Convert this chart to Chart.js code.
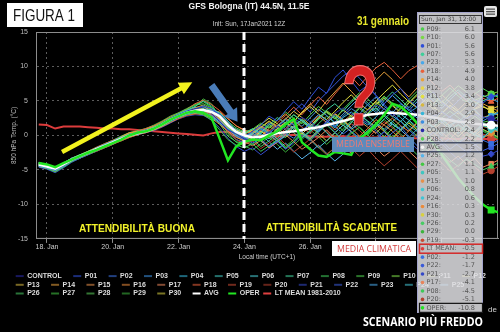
<!DOCTYPE html>
<html>
<head>
<meta charset="utf-8">
<title>GFS Bologna - 850 hPa ensemble</title>
<script src="https://cdn.jsdelivr.net/npm/chart.js@4.4.0/dist/chart.umd.min.js"></script>
<style>
  html, body { margin: 0; padding: 0; background: #000; }
  #wrap { width: 500px; height: 332px; }
</style>
</head>
<body>
<div id="wrap"><canvas id="ensChart" width="500" height="332"></canvas></div>
<script>
// asse x: ore dal 18 gen 00:00 (ora locale), passo 6 ore
const hours = [-6,0,6,12,18,24,30,36,42,48,54,60,66,72,78,84,90,96,102,108,114,120,126,132,138,144,150,156,162,168,174,180,186,192,198,204,210,216,222,228,234,240,246,252,258,264,270,276,282,288,294,300,306,312,318,324,330];
const xTickHours = [0, 48, 96, 144, 192, 240, 288];
const xTickLabels = ['18. Jan', '20. Jan', '22. Jan', '24. Jan', '26. Jan', '28. Jan', '30. Jan'];
const yTicks = [-15, -10, -5, 0, 5, 10, 15];
const splitHour = 144;           // 24 gennaio, linea tratteggiata
const hoverIdx = 55;             // Sun, Jan 31, 12:00
const hoverLabel = 'Sun, Jan 31, 12:00';

// membri ensemble (850 hPa, gradi C)
const CONTROL = [-4.0,-4.3,-4.9,-4.4,-3.6,-3.1,-2.4,-1.9,-1.6,-1.1,-0.4,0.1,0.4,0.5,1.1,1.8,2.5,3.0,3.5,3.9,4.1,3.2,2.0,0.8,0.2,-0.5,-0.8,-0.2,0.5,1.3,0.9,1.8,2.6,2.0,1.1,1.9,3.2,4.0,3.1,2.5,3.6,4.4,3.8,2.9,3.5,4.2,3.0,2.1,2.8,3.4,2.6,1.8,2.5,3.1,2.7,2.4,2.0];
const P01 = [-4.3,-4.6,-5.0,-4.1,-3.4,-3.0,-2.6,-2.1,-1.4,-0.9,-0.6,0.1,0.4,0.8,1.1,1.5,2.1,2.6,3.2,3.8,4.3,3.9,3.0,1.6,0.4,-0.2,0.6,1.5,2.8,2.1,3.6,4.9,3.8,5.5,7.0,6.1,8.4,9.5,7.9,6.4,7.3,5.8,4.6,5.9,6.8,5.2,4.1,5.4,6.3,4.8,3.9,5.0,6.2,5.1,4.7,5.62,6.0];
const P02 = [-4.4,-4.6,-4.7,-4.3,-3.7,-3.2,-2.6,-2.1,-1.5,-1.2,-0.6,-0.1,0.2,0.5,0.9,1.5,2.2,2.9,3.1,3.4,3.5,3.6,3.1,1.9,0.6,-0.4,-1.1,-0.5,-1.6,-0.9,0.3,-0.4,0.8,1.6,0.7,2.1,1.4,0.2,1.1,2.5,1.8,0.6,-0.7,0.4,1.3,-0.2,-1.5,-0.6,0.5,-0.8,-2.0,-1.1,-0.3,-1.4,-0.7,-1.2,-0.6];
const P03 = [-4.1,-4.4,-4.6,-4.0,-3.3,-2.9,-2.4,-2.0,-1.6,-1.0,-0.4,0.2,0.2,0.7,1.2,1.7,2.4,2.7,3.4,3.5,3.3,2.9,2.2,1.0,-0.1,-0.6,-0.1,0.9,0.2,1.4,2.3,1.5,0.6,1.9,3.0,2.2,1.3,2.8,3.9,3.1,4.5,5.6,4.2,3.3,4.6,3.8,2.5,3.6,2.9,1.8,2.7,3.5,2.4,3.2,2.1,2.8,3.3];
const P04 = [-4.5,-4.7,-5.1,-4.5,-3.6,-2.9,-2.5,-1.8,-1.3,-0.8,-0.3,0.1,0.5,0.6,1.0,1.7,2.4,3.1,3.6,3.7,3.3,2.6,1.8,0.9,0.3,-0.1,0.4,-0.6,0.2,-0.9,-0.1,1.2,0.5,-0.4,0.8,2.0,1.1,2.6,3.4,2.3,1.5,2.7,3.9,2.8,2.0,3.3,4.1,3.0,2.2,3.5,2.6,1.9,3.1,3.8,2.5,2.9,3.4];
const P05 = [-3.9,-4.3,-4.8,-4.3,-3.4,-2.8,-2.5,-2.1,-1.6,-1.1,-0.5,0.0,0.2,0.6,0.9,1.5,2.1,2.7,3.2,3.5,3.9,3.7,3.3,2.1,0.7,0.1,-0.4,0.3,-0.5,0.8,1.7,0.9,-0.3,0.6,1.5,0.4,-0.8,0.5,1.9,3.0,2.1,1.2,2.4,3.5,2.6,1.4,0.6,1.8,2.9,2.0,0.8,1.6,0.7,0.2,1.4,1.08,0.6];
const P06 = [-4.2,-4.4,-4.9,-4.2,-3.5,-3.1,-2.6,-2.2,-1.7,-1.0,-0.6,-0.1,0.3,0.7,1.0,1.6,2.2,2.7,3.1,3.4,3.2,2.7,2.0,0.9,0.0,-0.3,0.2,1.1,0.4,-0.5,0.6,1.4,2.3,1.3,0.5,1.8,2.9,2.0,0.9,1.7,3.1,4.0,2.8,1.6,0.8,2.1,3.0,1.9,1.2,0.3,1.5,2.2,1.0,0.1,-0.4,0.8,1.3];
const P07 = [-4.0,-4.6,-5.0,-4.3,-3.4,-3.0,-2.4,-1.9,-1.4,-0.9,-0.4,0.1,0.4,0.7,1.1,1.7,2.5,3.1,3.6,4.2,5.0,4.3,2.9,1.4,0.6,0.2,1.0,0.3,1.5,2.6,1.8,3.0,2.1,1.2,2.4,3.7,4.6,3.5,4.8,5.9,4.7,3.6,5.1,6.3,5.2,4.0,5.3,6.5,5.4,4.3,5.6,6.6,5.5,4.6,5.0,5.58,5.9];
const P08 = [-4.4,-4.8,-5.3,-4.6,-3.8,-3.2,-2.7,-2.2,-1.6,-1.0,-0.5,0.0,0.2,0.5,0.9,1.4,2.0,2.6,3.0,3.3,3.0,2.2,0.8,-0.6,-1.4,-1.8,-1.2,-2.3,-1.5,-0.6,-1.8,-0.9,0.2,-0.7,0.6,1.5,0.4,-0.8,0.3,1.2,0.1,-1.1,-2.4,-1.3,-0.2,-1.6,-2.8,-1.9,-3.2,-2.4,-3.6,-4.5,-3.4,-4.2,-5.0,-4.5,-3.9];
const P09 = [-4.1,-4.4,-4.9,-4.2,-3.3,-2.8,-2.3,-1.8,-1.5,-1.0,-0.5,0.0,0.4,0.6,1.2,1.9,2.6,3.2,3.8,4.4,4.6,4.0,3.2,2.0,1.1,0.5,0.9,1.8,1.1,2.3,3.4,2.5,1.7,3.0,4.2,3.3,2.4,3.8,5.0,6.2,5.3,4.1,5.6,4.7,3.8,5.2,6.4,5.5,4.4,5.8,6.9,5.7,4.8,6.0,6.8,6.1,5.4];
const P10 = [-4.3,-4.5,-4.7,-4.0,-3.5,-3.1,-2.6,-2.0,-1.4,-0.9,-0.4,0.2,0.4,0.7,1.0,1.6,2.3,2.9,3.5,3.9,4.1,3.6,2.6,1.2,0.2,-0.3,-0.7,0.4,1.3,0.5,-0.3,0.9,2.0,1.1,2.5,3.6,2.7,1.6,2.9,4.1,3.2,4.6,5.7,4.5,3.4,4.8,6.0,7.1,5.9,4.7,6.1,7.2,6.3,5.1,5.6,6.0,6.4];
const P11 = [-4.0,-4.4,-4.6,-4.1,-3.6,-3.0,-2.5,-2.0,-1.5,-1.1,-0.6,-0.1,0.3,0.6,0.9,1.4,2.1,2.6,3.2,3.5,3.6,3.5,3.0,1.8,0.8,0.3,0.8,1.6,2.5,1.7,0.8,2.0,3.3,4.2,3.1,2.3,3.5,4.8,5.9,4.6,3.7,5.0,6.2,7.3,6.0,4.9,4.0,5.2,4.1,3.2,4.4,3.5,2.6,3.8,4.3,3.4,2.9];
const P12 = [-4.2,-4.5,-4.8,-4.3,-3.5,-2.9,-2.4,-1.9,-1.5,-1.0,-0.5,0.1,0.3,0.5,1.0,1.6,2.2,2.8,3.3,3.7,3.9,3.5,2.7,1.5,0.6,0.0,-0.5,0.6,-0.2,1.0,1.9,1.1,0.2,1.4,2.6,3.5,2.4,3.7,2.8,1.9,3.2,4.5,5.4,4.3,3.3,4.7,5.8,4.9,3.8,5.0,4.0,3.1,4.2,4.9,4.1,3.8,4.3];
const P13 = [-4.3,-4.6,-4.9,-4.4,-3.7,-3.1,-2.4,-1.8,-1.4,-0.8,-0.3,0.2,0.5,0.8,1.3,1.8,2.4,2.9,3.5,4.0,4.4,3.8,2.4,1.0,0.1,-0.2,0.3,1.2,2.1,1.3,2.4,3.5,2.6,1.5,0.7,1.9,3.1,2.2,1.1,2.5,3.7,4.9,3.8,2.7,3.9,5.1,4.0,2.9,2.0,3.2,4.3,3.4,2.3,3.5,2.6,3.0,3.6];
const P14 = [-4.1,-4.3,-4.7,-4.2,-3.4,-3.0,-2.5,-2.0,-1.6,-1.1,-0.2,0.4,0.6,0.5,0.8,1.4,2.2,2.9,3.4,3.6,3.4,2.9,2.1,1.0,0.4,0.2,0.7,-0.1,1.0,2.2,3.1,2.0,3.4,4.6,3.5,5.0,6.3,7.6,6.4,5.1,6.6,8.0,9.2,8.1,6.8,5.6,6.9,5.7,4.6,5.9,4.8,3.7,4.9,3.9,4.6,4.0,3.5];
const P15 = [-4.5,-4.8,-5.0,-4.4,-3.7,-3.2,-2.7,-2.1,-1.4,-0.9,-0.7,-0.2,0.1,0.6,1.0,1.6,2.3,2.7,3.0,3.2,3.0,2.5,1.6,0.6,-0.3,-0.7,-0.2,0.7,0.0,-0.8,0.4,1.3,0.5,1.7,2.8,1.9,0.8,2.0,3.0,2.1,1.2,0.3,1.6,2.5,1.4,0.6,1.8,2.7,1.5,0.4,-0.5,0.7,1.6,0.5,1.3,1.0,0.4];
const P16 = [-4.0,-4.3,-4.6,-4.0,-3.3,-2.8,-2.3,-1.9,-1.5,-1.2,-0.7,-0.2,0.2,0.9,1.2,1.9,2.6,3.0,3.4,3.8,4.0,3.7,3.4,2.4,1.4,0.7,0.3,-0.6,0.5,1.4,2.5,1.6,0.4,-0.5,0.8,2.0,3.2,2.3,1.1,-0.1,1.0,2.3,1.5,0.6,-0.6,0.7,1.9,0.9,-0.2,1.0,2.0,0.8,-0.3,0.6,-0.4,0.3,0.9];
const P17 = [-4.4,-4.7,-5.2,-4.5,-3.6,-3.1,-2.6,-2.0,-1.5,-1.0,-0.4,0.0,0.2,0.4,0.8,1.3,1.9,2.5,3.0,3.4,3.6,3.2,2.3,0.9,-0.2,-0.9,-1.5,-0.7,-1.8,-1.0,0.1,-0.9,-2.0,-1.2,-0.3,0.8,-0.4,-1.5,-2.6,-1.7,-0.6,-1.8,-3.0,-2.1,-1.0,-2.3,-3.4,-2.5,-1.6,-2.8,-3.9,-3.0,-4.2,-3.3,-4.6,-4.1,-3.5];
const P18 = [-4.2,-4.6,-4.8,-4.1,-3.4,-2.9,-2.3,-1.7,-1.2,-0.7,-0.3,0.3,0.6,1.0,1.4,2.0,2.7,3.2,3.8,4.6,5.1,4.5,3.6,2.5,1.4,0.8,0.4,1.3,0.6,1.8,2.9,4.1,3.0,4.4,5.6,4.5,6.0,7.4,8.5,7.2,8.6,9.8,10.6,9.5,8.2,9.4,10.1,8.8,7.5,6.4,7.3,6.1,5.0,6.2,5.4,4.9,5.5];
const P19 = [-4.3,-4.5,-4.7,-4.2,-3.6,-3.2,-2.7,-2.3,-1.8,-1.3,-0.8,-0.3,0.1,0.4,0.8,1.3,1.9,2.5,2.9,3.1,3.2,2.8,1.9,0.8,0.0,-0.6,-0.9,-0.1,0.8,-0.2,1.0,2.1,1.2,0.3,1.5,0.6,-0.6,0.5,1.7,0.7,-0.4,0.8,2.0,1.1,0.0,-1.1,0.2,1.2,0.3,-0.8,0.4,-0.7,0.5,-0.6,0.2,-0.3,-0.9];
const P20 = [-4.1,-4.4,-5.0,-4.4,-3.7,-3.2,-2.7,-2.1,-1.7,-1.2,-0.6,-0.1,0.3,0.6,1.0,1.5,2.0,2.4,2.9,3.2,3.4,3.0,2.0,0.5,-0.6,-1.3,-0.8,-1.9,-1.1,-0.2,-1.3,-2.4,-1.5,-0.5,-1.6,-2.7,-1.8,-0.7,-1.9,-3.0,-2.0,-3.3,-4.4,-3.4,-2.3,-3.5,-4.7,-3.8,-2.9,-4.0,-5.2,-4.3,-3.4,-4.6,-5.6,-5.1,-4.4];
const P21 = [-4.6,-4.9,-5.4,-4.7,-3.9,-3.3,-2.8,-2.2,-1.7,-1.2,-0.7,-0.2,0.1,0.4,0.7,1.2,1.8,2.4,2.8,3.0,2.9,2.3,1.1,-0.4,-1.6,-2.3,-1.8,-2.8,-1.9,-0.9,-2.0,-1.1,0.1,-0.8,0.4,1.6,0.5,-0.6,0.6,-0.5,-1.7,-0.6,0.5,-0.7,-1.9,-0.8,-2.0,-3.1,-2.2,-1.2,-2.4,-3.5,-2.6,-1.7,-3.0,-2.7,-2.1];
const P22 = [-4.2,-4.5,-4.8,-4.3,-3.4,-3.0,-2.5,-2.0,-1.5,-1.0,-0.5,0.0,0.3,0.6,1.0,1.7,2.4,3.0,3.5,3.8,3.9,3.3,2.2,0.7,-0.6,-1.0,-0.4,0.7,1.8,1.0,2.3,3.5,4.6,3.4,5.0,6.2,7.4,8.6,9.5,8.3,7.0,5.8,4.5,3.2,2.0,0.8,-0.3,0.9,-0.2,-1.3,-0.4,-1.5,-2.4,-1.3,-2.2,-1.7,-1.1];
const P23 = [-4.0,-4.3,-4.6,-4.0,-3.3,-2.9,-2.4,-1.9,-1.3,-0.8,-0.2,0.3,0.6,0.9,1.3,1.8,2.5,3.0,3.4,3.7,3.8,3.4,2.6,1.3,0.3,-0.1,0.5,1.4,0.7,-0.2,1.0,2.2,1.3,2.6,3.8,2.9,1.9,3.1,4.3,5.5,4.4,3.3,4.6,5.8,4.7,3.6,4.9,6.1,5.0,3.9,5.2,6.3,5.1,4.2,5.8,5.3,4.8];
const P24 = [-4.4,-4.6,-5.1,-4.5,-3.8,-3.3,-2.8,-2.3,-1.8,-1.3,-0.7,-0.2,0.2,0.5,0.9,1.4,2.1,2.6,3.0,3.3,3.5,3.1,2.3,1.2,0.2,-0.4,0.1,-0.8,-1.7,-0.7,-1.9,-0.9,0.3,-0.6,-1.8,-0.8,0.4,1.5,0.6,-0.4,0.7,1.8,0.9,2.0,3.1,2.2,1.2,0.1,1.3,2.4,1.4,0.3,1.5,0.5,-0.2,0.6,1.1];
const P25 = [-4.1,-4.5,-4.9,-4.3,-3.5,-3.0,-2.4,-1.9,-1.4,-0.9,-0.4,0.1,0.5,0.8,1.2,1.8,2.5,3.1,3.7,4.1,4.0,3.3,2.5,1.6,0.9,0.4,0.9,0.1,-0.9,-2.0,-1.1,-2.3,-3.4,-2.5,-1.4,-2.6,-3.7,-2.7,-1.6,-0.5,-1.7,-0.6,0.6,1.7,0.8,-0.3,0.9,2.0,1.1,0.0,1.2,2.3,1.4,0.4,1.8,1.2,0.7];
const P26 = [-4.3,-4.7,-5.2,-4.6,-3.8,-3.3,-2.7,-2.1,-1.6,-1.1,-0.6,0.0,0.3,0.6,0.9,1.5,2.2,2.8,3.4,3.9,4.2,3.6,1.7,-0.1,-0.9,-1.2,-0.5,-1.6,-0.8,0.3,1.3,0.4,-0.6,0.6,1.7,2.8,1.8,0.7,1.9,3.0,2.0,0.9,-0.2,1.0,2.1,1.0,-0.1,-1.2,0.0,1.1,0.1,-1.0,0.2,-0.8,0.8,0.2,-0.4];
const P27 = [-4.0,-4.4,-4.8,-4.2,-3.5,-2.9,-2.3,-1.8,-1.2,-0.7,-0.1,0.4,0.7,1.0,1.5,2.1,2.8,3.3,3.9,4.5,4.9,4.1,2.8,1.3,0.0,-0.7,-1.3,-0.4,0.6,-0.5,-1.6,-0.6,0.5,-0.5,-1.7,-2.8,-1.8,-0.7,0.5,-0.5,0.7,1.8,0.8,-0.3,0.9,2.0,1.0,0.0,1.2,2.2,1.3,0.3,1.5,0.6,1.6,1.12,0.5];
const P28 = [-4.2,-4.4,-4.6,-4.0,-3.4,-3.0,-2.5,-2.0,-1.6,-1.2,-0.8,-0.3,0.1,0.5,1.0,1.6,2.3,2.8,3.3,3.6,3.8,3.2,1.9,0.4,-0.6,-1.1,-0.6,0.5,1.6,0.7,1.9,3.0,2.1,1.0,2.3,3.4,2.5,1.4,2.7,3.9,2.9,1.8,3.0,2.0,0.9,2.1,3.2,2.2,1.2,2.5,3.5,2.6,1.6,2.8,1.9,2.2,2.8];
const P29 = [-4.5,-4.8,-5.1,-4.4,-3.6,-3.1,-2.5,-1.9,-1.4,-0.9,-0.4,0.1,0.4,0.7,1.1,1.7,2.4,3.0,3.6,4.2,5.3,4.6,2.5,0.3,-1.0,-1.5,-2.1,-1.2,-0.2,-1.3,-2.4,-1.4,-0.3,0.8,-0.2,-1.3,-0.2,1.0,2.1,1.1,0.0,1.2,2.3,1.3,0.2,-0.9,0.3,1.4,0.4,-0.7,0.5,1.5,0.5,-0.5,0.6,0.0,-0.6];
const P30 = [-4.2,-4.6,-5.0,-4.4,-3.7,-3.1,-2.6,-2.1,-1.6,-1.0,-0.3,0.3,0.5,0.9,1.4,2.0,2.6,3.1,3.5,3.7,3.6,3.1,2.2,1.1,0.3,-0.3,0.2,1.1,2.0,1.1,0.1,1.2,2.3,1.3,0.3,-0.8,0.4,1.5,0.5,-0.6,0.5,1.6,0.6,-0.5,0.7,1.8,0.8,-0.3,0.8,1.9,0.9,-0.2,1.0,0.0,0.9,0.3,-0.3];

// media ensemble, run operativo, media climatica
const AVG = [-4.2,-4.5,-4.8,-4.2,-3.5,-3.0,-2.5,-2.0,-1.5,-1.0,-0.5,0.0,0.3,0.6,1.0,1.6,2.3,2.8,3.3,3.6,3.7,3.4,2.8,1.5,0.5,0.0,-0.3,-0.2,0.1,0.3,0.5,0.6,0.8,1.0,1.2,1.5,1.8,2.1,2.4,2.7,3.0,3.1,3.3,3.3,3.2,3.1,3.0,2.8,2.6,2.4,2.2,2.0,1.9,1.7,1.6,1.5,1.4];
const OPER = [-4.0,-4.2,-4.6,-4.0,-3.5,-3.0,-2.5,-2.1,-1.6,-1.1,-0.6,0.0,0.4,0.6,1.0,1.6,2.3,2.8,3.3,3.5,3.3,2.6,-0.5,-3.6,-1.6,-0.9,-0.6,-0.7,0.0,0.6,1.6,2.4,-1.0,-2.0,-2.9,-3.1,-2.4,-2.6,-2.8,-0.4,0.4,1.6,3.0,4.6,4.2,3.1,1.8,0.4,-1.2,-2.8,-4.5,-6.2,-7.6,-8.9,-10.0,-10.8,-11.2];
const LT_MEAN = [1.6,1.5,1.0,1.3,1.3,1.3,1.2,1.1,1.0,1.0,0.9,0.9,0.8,0.7,0.6,0.5,0.4,0.3,0.2,0.1,0.0,0.3,0.5,0.5,0.3,0.1,0.0,0.0,-0.1,-0.1,0.0,0.1,0.0,-0.1,-0.2,-0.2,-0.1,-0.1,-0.2,-0.2,-0.3,-0.3,-0.2,-0.3,-0.3,-0.4,-0.4,-0.3,-0.4,-0.4,-0.5,-0.5,-0.4,-0.5,-0.5,-0.5,-0.5];

const memberNames = ['CONTROL','P01','P02','P03','P04','P05','P06','P07','P08','P09','P10','P11','P12','P13','P14','P15','P16','P17','P18','P19','P20','P21','P22','P23','P24','P25','P26','P27','P28','P29','P30'];
const memberData = [CONTROL,P01,P02,P03,P04,P05,P06,P07,P08,P09,P10,P11,P12,P13,P14,P15,P16,P17,P18,P19,P20,P21,P22,P23,P24,P25,P26,P27,P28,P29,P30];
const memberColors = ['#2a2aa8','#2f4fd8','#3a6fe0','#3b8fe0','#35b5d8','#3fc6c0','#46c8d0','#3fcf9a','#3ec858','#4ccf4c','#7ad846','#e2e040','#e8d44a','#d6b840','#e8a23c','#e6904a','#ea8a3a','#e8845a','#e8603a','#c84a34','#b4402e','#3448c8','#3a5ad8','#48a8ea','#44c4d4','#58b4ea','#48cc64','#44c844','#5ad05a','#3cb43c','#d8d040'];
const markerStyles = ['circle', 'rectRot', 'rect', 'triangle', 'triangle'];

Chart.defaults.font.family = '"Liberation Sans", Arial, sans-serif';

const toXY = (arr) => arr.map((v, i) => ({ x: hours[i], y: v }));
const markerRadius = (c) => (c.dataIndex === hoverIdx ? 3.2 : 0);

const datasets = memberData.map((arr, i) => ({
    label: memberNames[i],
    short: memberNames[i],
    data: toXY(arr),
    borderColor: memberColors[i],
    backgroundColor: memberColors[i],
    legendColor: memberColors[i] + '90',
    borderWidth: 1,
    pointStyle: markerStyles[i % 5],
    rotation: i % 5 === 4 ? 180 : 0,
    pointRadius: markerRadius,
    pointBorderWidth: 1
}));
datasets.push({
    label: 'AVG', short: 'AVG', data: toXY(AVG), order: -1,
    borderColor: '#ffffff', backgroundColor: '#ffffff', legendColor: '#ffffff',
    borderWidth: 2.5, pointStyle: 'circle', pointRadius: markerRadius
});
datasets.push({
    label: 'OPER', short: 'OPER', data: toXY(OPER), order: -2,
    borderColor: '#22e622', backgroundColor: '#22e622', legendColor: '#22e622',
    borderWidth: 2.5, pointStyle: 'rect', pointRadius: markerRadius
});
datasets.push({
    label: 'LT MEAN 1981-2010', short: 'LT MEAN', data: toXY(LT_MEAN),
    borderColor: '#dc3c3c', backgroundColor: '#dc3c3c', legendColor: '#e04040',
    borderWidth: 2, pointStyle: 'circle', pointRadius: markerRadius
});

// spazi dopo il testo per imitare la spaziatura della legenda originale
const legendTail = { AVG: '    ', OPER: ' ' };

// testo adattato a una larghezza data
function fitText(c, text, x, y, w, font, color) {
    c.save();
    c.font = font;
    const m = c.measureText(text).width;
    c.translate(x, y);
    c.scale(w / m, 1);
    c.fillStyle = color;
    c.textBaseline = 'middle';
    c.textAlign = 'left';
    c.fillText(text, 0, 0);
    c.restore();
}

function blockArrow(c, x1, y1, x2, y2, shaft, headW, headL, color) {
    const ang = Math.atan2(y2 - y1, x2 - x1);
    const len = Math.hypot(x2 - x1, y2 - y1);
    c.save();
    c.translate(x1, y1);
    c.rotate(ang);
    c.beginPath();
    c.moveTo(0, -shaft / 2);
    c.lineTo(len - headL, -shaft / 2);
    c.lineTo(len - headL, -headW / 2);
    c.lineTo(len, 0);
    c.lineTo(len - headL, headW / 2);
    c.lineTo(len - headL, shaft / 2);
    c.lineTo(0, shaft / 2);
    c.closePath();
    c.fillStyle = color;
    c.fill();
    c.restore();
}

const overlay = {
    id: 'overlay',
    beforeDraw(chart) {
        const c = chart.ctx;
        c.save();
        c.fillStyle = '#000';
        c.fillRect(0, 0, chart.width, chart.height);
        c.restore();
    },
    afterLayout(chart) {
        // legenda spostata a destra come nell'originale
        chart.legend.left += 14;
    },
    beforeDatasetsDraw(chart) {
        const { ctx: c, chartArea: a } = chart;
        c.save();
        c.strokeStyle = '#8c8c8c';
        c.lineWidth = 1;
        c.strokeRect(a.left + 0.5, a.top + 0.5, a.right - a.left - 1, a.bottom - a.top - 1);
        c.restore();
    },
    afterDatasetsDraw(chart) {
        const { ctx: c, chartArea: a, scales: { x, y } } = chart;

        // linea 24 gennaio
        const xs = Math.round(x.getPixelForValue(splitHour));
        c.save();
        c.strokeStyle = '#ffffff';
        c.lineWidth = 3;
        c.setLineDash([8, 4]);
        c.beginPath();
        c.moveTo(xs, a.top);
        c.lineTo(xs, a.bottom);
        c.stroke();
        c.restore();

        // frecce
        blockArrow(c, x.getPixelForValue(11), y.getPixelForValue(-2.4),
            x.getPixelForValue(106), y.getPixelForValue(7.7), 4.5, 13, 13, '#f2f21e');
        blockArrow(c, x.getPixelForValue(120), y.getPixelForValue(7.3),
            x.getPixelForValue(139), y.getPixelForValue(2.0), 7, 16, 12, '#4a7cb8');

        // punto interrogativo
        c.save();
        c.font = 'bold 86px "Liberation Sans", Arial';
        const qw = c.measureText('?').width;
        c.translate(342, 125);
        c.scale(36 / qw, 1);
        c.textBaseline = 'alphabetic';
        c.fillStyle = '#d42222';
        c.fillText('?', 0, 0);
        c.lineWidth = 1.2;
        c.strokeStyle = '#f07070';
        c.strokeText('?', 0, 0);
        c.restore();

        const narrow = '"Liberation Sans Narrow", "Liberation Sans", Arial';
        fitText(c, 'ATTENDIBILITÀ BUONA', 79, 229, 116, 'bold 11px ' + narrow, '#f2f22a');
        fitText(c, 'ATTENDIBILITÀ SCADENTE', 266, 228, 131, 'bold 11px ' + narrow, '#f2f22a');

        // etichetta media ensemble
        c.save();
        c.fillStyle = '#5b8bbd';
        c.fillRect(332, 137, 82, 15);
        c.restore();
        fitText(c, 'MEDIA ENSEMBLE', 336, 144.5, 74, '9.5px "Open Sans", Arial', '#f07a72');
    },
    afterDraw(chart) {
        const c = chart.ctx;
        const narrow = '"Liberation Sans Narrow", "Liberation Sans", Arial';

        // FIGURA 1
        c.save();
        c.fillStyle = '#ffffff';
        c.fillRect(7, 3, 76, 24);
        c.restore();
        fitText(c, 'FIGURA 1', 13, 16, 62, '17px ' + narrow, '#111');

        fitText(c, '31 gennaio', 357, 21, 52, 'bold 13px ' + narrow, '#e6e62c');

        // media climatica
        c.save();
        c.fillStyle = '#ffffff';
        c.fillRect(332, 241, 84, 15);
        c.restore();
        fitText(c, 'MEDIA CLIMATICA', 337, 249, 74, '9.5px "Open Sans", Arial', '#d23a3a');

        // riquadro valori al 31 gennaio
        const rows = chart.data.datasets.map((d) => ({
            name: d.short, color: d.borderColor, v: d.data[hoverIdx].y
        })).sort((p, q) => q.v - p.v);

        c.save();
        c.fillStyle = 'rgba(222,222,226,0.86)';
        c.fillRect(417, 12, 66, 301);
        c.strokeStyle = '#a4a4cc';
        c.lineWidth = 1;
        c.strokeRect(417.5, 12.5, 65, 300);
        c.strokeStyle = '#333';
        c.strokeRect(419.5, 15.5, 62, 8);
        c.font = '6px "DejaVu Sans", sans-serif';
        c.fillStyle = '#444';
        c.textBaseline = 'middle';
        c.fillText(hoverLabel, 421, 19.7);

        rows.forEach((r, i) => {
            const ry = 29 + i * 8.45;
            c.beginPath();
            c.arc(422.5, ry, 1.8, 0, Math.PI * 2);
            c.fillStyle = r.color === '#ffffff' ? '#f4f4f4' : r.color;
            c.fill();
            c.fillStyle = '#555';
            c.font = '6.5px "DejaVu Sans", sans-serif';
            c.textAlign = 'left';
            c.fillText(r.name + ':', 426.5, ry);
            c.textAlign = 'right';
            c.fillText(r.v.toFixed(1), 475, ry);
            if (r.name === 'AVG' || r.name === 'OPER' || r.name === 'LT MEAN') {
                c.lineWidth = r.name === 'LT MEAN' ? 1.5 : 1.2;
                c.strokeStyle = r.name === 'LT MEAN' ? '#d42828' : (r.name === 'AVG' ? '#2a3550' : '#111');
                c.strokeRect(419.5, ry - 4.5, 63, 9);
            }
        });
        c.restore();

        // icona menu
        c.save();
        c.fillStyle = '#e6e6e6';
        c.beginPath();
        c.roundRect(484, 6, 13, 11, 2);
        c.fill();
        c.fillStyle = '#555';
        c.fillRect(486, 8.5, 9, 1.3);
        c.fillRect(486, 11, 9, 1.3);
        c.fillRect(486, 13.5, 9, 1.3);
        c.font = '8px "Liberation Sans", Arial';
        c.fillStyle = '#cfcfcf';
        c.textBaseline = 'middle';
        c.fillText('de', 488, 310);
        c.restore();

        fitText(c, 'SCENARIO PIÙ FREDDO', 363, 322, 120, 'bold 13px "Open Sans", Arial', '#ffffff');
    }
};

new Chart(document.getElementById('ensChart'), {
    type: 'line',
    data: { datasets: datasets },
    options: {
        responsive: false,
        animation: false,
        devicePixelRatio: 1,
        events: [],
        layout: { padding: { left: 0, right: 2, top: 0, bottom: 25 } },
        elements: { line: { tension: 0 } },
        scales: {
            x: {
                type: 'linear',
                min: -8,
                max: 329,
                afterFit: (s) => { s.height = 32; },
                afterBuildTicks: (s) => { s.ticks = xTickHours.map((v) => ({ value: v })); },
                ticks: {
                    color: '#cfcfcf',
                    font: { size: 7 },
                    padding: 0,
                    maxRotation: 0,
                    autoSkip: false,
                    callback: (v) => xTickLabels[xTickHours.indexOf(v)]
                },
                grid: { color: '#5c5c5c', tickLength: 4, tickColor: '#8c8c8c' },
                border: { display: true, color: '#8c8c8c', dash: [2, 3] },
                title: {
                    display: true,
                    text: 'Local time (UTC+1)',
                    color: '#cfcfcf',
                    font: { size: 6.5 },
                    padding: { top: 0, bottom: 10 }
                }
            },
            y: {
                min: -15,
                max: 15,
                afterFit: (s) => { s.width = 36; },
                afterBuildTicks: (s) => { s.ticks = yTicks.map((v) => ({ value: v })); },
                ticks: { color: '#bdbdbd', font: { size: 7 }, padding: 8 },
                grid: { color: '#5c5c5c', drawTicks: false },
                border: { display: true, color: '#8c8c8c', dash: [2, 3] },
                title: {
                    display: true,
                    text: '850 hPa Temp. (°C)',
                    color: '#bdbdbd',
                    font: { size: 6.5 },
                    padding: { top: 10, bottom: 0 }
                }
            }
        },
        plugins: {
            title: {
                display: true,
                text: 'GFS Bologna (IT) 44.5N, 11.5E',
                color: '#f2f2f2',
                font: { size: 8.5, weight: 'bold', family: '"Liberation Sans Narrow", "Liberation Sans", Arial' },
                padding: { top: 2, bottom: 5 }
            },
            subtitle: {
                display: true,
                text: 'Init: Sun, 17Jan2021 12Z',
                color: '#d6d6d6',
                font: { size: 6.5 },
                padding: { top: 2.9, bottom: 4.1 }
            },
            legend: {
                position: 'bottom',
                align: 'start',
                labels: {
                    color: '#dcdcdc',
                    font: { size: 7, weight: 'bold' },
                    boxWidth: 8,
                    boxHeight: 2,
                    padding: 1.7,
                    sort: (p, q) => p.datasetIndex - q.datasetIndex,
                    generateLabels: (chart) => {
                        const items = Chart.defaults.plugins.legend.labels.generateLabels(chart);
                        items.forEach((it) => {
                            const ds = chart.data.datasets[it.datasetIndex];
                            const tail = legendTail[ds.label] !== undefined ? legendTail[ds.label] : '     ';
                            it.text = ds.label + tail;
                            it.fillStyle = ds.legendColor;
                            it.lineWidth = 0;
                        });
                        return items;
                    }
                }
            },
            tooltip: { enabled: false }
        }
    },
    plugins: [overlay]
});
</script>
</body>
</html>
